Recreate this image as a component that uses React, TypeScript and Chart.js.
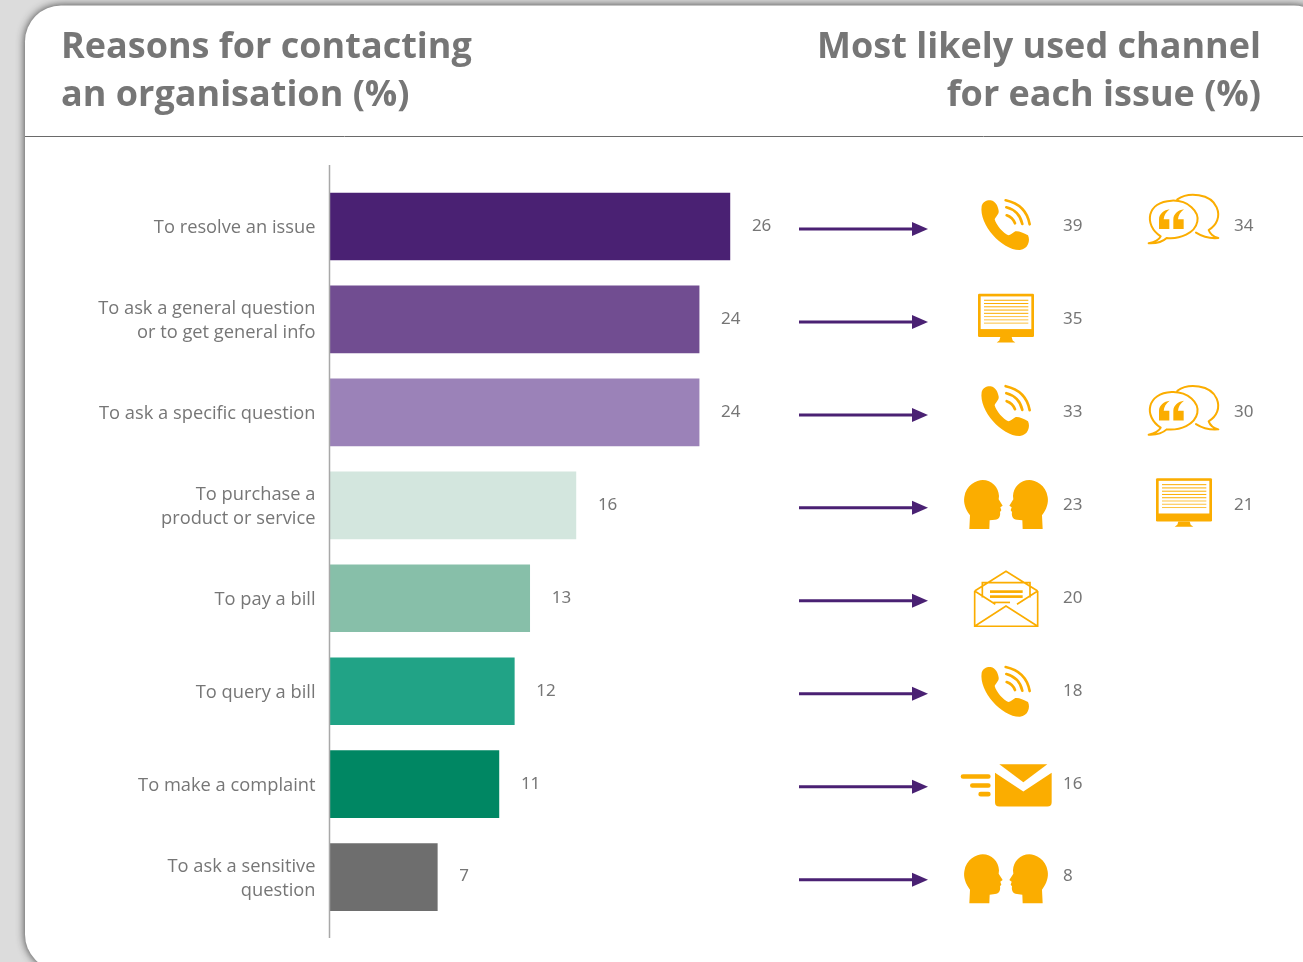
import React, { useEffect, useRef } from "react";
import { Chart, registerables } from "chart.js";

Chart.register(...registerables);

const categories: (string | string[])[] = [
  "To resolve an issue",
  ["To ask a general question", "or to get general info"],
  "To ask a specific question",
  ["To purchase a", "product or service"],
  "To pay a bill",
  "To query a bill",
  "To make a complaint",
  ["To ask a sensitive", "question"],
];
const reasonValues = [26, 24, 24, 16, 13, 12, 11, 7];
const barColors = ["#4a2173", "#714d91", "#9b82b8", "#d3e6de", "#87bfa9", "#21a386", "#008763", "#6e6e6e"];
const firstChannel = ["phone", "monitor", "phone", "heads", "letter", "phone", "email", "heads"];
const firstChannelValues = [39, 35, 33, 23, 20, 18, 16, 8];
const secondChannel = ["chat", null, "chat", "monitor", null, null, null, null];
const secondChannelValues = [34, null, 30, 21, null, null, null, null];
const leftTitle = ["Reasons for contacting", "an organisation (%)"];
const rightTitle = ["Most likely used channel", "for each issue (%)"];

const AMBER = "#fbad00";
const PURPLE = "#4a2173";
const GREY_TEXT = "#767676";

type Ctx = CanvasRenderingContext2D;

// Icons are authored on a 3x grid, x from the icon column and y from the row centre.
function drawPhone(ctx: Ctx) {
  ctx.translate(0, -169.5);
  ctx.fillStyle = AMBER;
  ctx.beginPath();
  ctx.moveTo(125, 108);
  ctx.bezierCurveTo(116, 165, 188, 242, 240, 240);
  ctx.bezierCurveTo(264, 238, 272, 212, 264, 196);
  ctx.bezierCurveTo(250, 188, 235, 182, 226, 184);
  ctx.bezierCurveTo(218, 188, 212, 196, 205, 196);
  ctx.bezierCurveTo(190, 190, 168, 165, 164, 148);
  ctx.bezierCurveTo(166, 140, 178, 132, 176, 122);
  ctx.bezierCurveTo(174, 110, 168, 94, 152, 91);
  ctx.bezierCurveTo(140, 90, 128, 96, 125, 108);
  ctx.fill();
  ctx.strokeStyle = AMBER;
  ctx.lineWidth = 8;
  ctx.lineCap = "round";
  ctx.beginPath();
  ctx.moveTo(197, 91);
  ctx.quadraticCurveTo(258, 104, 269, 163);
  ctx.moveTo(199, 112);
  ctx.quadraticCurveTo(238, 122, 247, 162);
  ctx.moveTo(200, 136);
  ctx.quadraticCurveTo(218, 142, 225, 160);
  ctx.stroke();
}

function drawChat(ctx: Ctx) {
  ctx.translate(0, -169.5);
  ctx.strokeStyle = AMBER;
  ctx.lineWidth = 6;
  ctx.lineCap = "round";
  ctx.lineJoin = "round";
  ctx.beginPath();
  ctx.moveTo(662, 199);
  ctx.bezierCurveTo(610, 165, 620, 95, 695, 92);
  ctx.bezierCurveTo(745, 90, 778, 125, 772, 155);
  ctx.bezierCurveTo(765, 190, 720, 208, 680, 204);
  ctx.bezierCurveTo(665, 218, 645, 221, 626, 220);
  ctx.bezierCurveTo(645, 216, 658, 208, 662, 199);
  ctx.moveTo(712, 88);
  ctx.bezierCurveTo(745, 65, 812, 70, 830, 112);
  ctx.bezierCurveTo(842, 140, 830, 165, 806, 180);
  ctx.bezierCurveTo(810, 192, 820, 200, 835, 204);
  ctx.bezierCurveTo(812, 206, 790, 202, 768, 188);
  ctx.stroke();
  ctx.fillStyle = AMBER;
  for (const dx of [0, 43]) {
    ctx.beginPath();
    ctx.moveTo(657 + dx, 177);
    ctx.lineTo(657 + dx, 148);
    ctx.bezierCurveTo(657 + dx, 132, 672 + dx, 120, 689 + dx, 118);
    ctx.bezierCurveTo(678 + dx, 126, 672 + dx, 136, 671 + dx, 148);
    ctx.lineTo(688 + dx, 148);
    ctx.lineTo(688 + dx, 177);
    ctx.closePath();
    ctx.fill();
  }
}

function drawMonitor(ctx: Ctx) {
  ctx.fillStyle = AMBER;
  ctx.beginPath();
  ctx.roundRect(114, -77, 168, 130, 4);
  ctx.fill();
  ctx.fillStyle = "#ffffff";
  ctx.fillRect(122, -69, 152, 98);
  ctx.fillStyle = AMBER;
  for (let i = 0; i < 8; i++) {
    ctx.globalAlpha = i < 5 ? 1 : 0.75;
    ctx.fillRect(132, -59 + i * 9.8, 133, 3);
  }
  ctx.globalAlpha = 1;
  ctx.beginPath();
  ctx.moveTo(181, 53);
  ctx.lineTo(215, 53);
  ctx.lineTo(218, 63);
  ctx.lineTo(226, 69);
  ctx.lineTo(170, 69);
  ctx.lineTo(178, 63);
  ctx.closePath();
  ctx.fill();
}

function headPath(ctx: Ctx) {
  ctx.beginPath();
  ctx.moveTo(88, 71);
  ctx.lineTo(90, 30);
  ctx.bezierCurveTo(76, 12, 70, -8, 73, -25);
  ctx.bezierCurveTo(78, -62, 110, -76, 128, -76);
  ctx.bezierCurveTo(155, -76, 176, -55, 177, -28);
  ctx.lineTo(176, -18);
  ctx.lineTo(188, 1);
  ctx.lineTo(181, 6);
  ctx.lineTo(184, 15);
  ctx.lineTo(180, 20);
  ctx.bezierCurveTo(182, 32, 178, 42, 165, 43);
  ctx.lineTo(149, 45);
  ctx.lineTo(148, 71);
  ctx.closePath();
  ctx.fill();
}

function drawHeads(ctx: Ctx) {
  ctx.fillStyle = AMBER;
  headPath(ctx);
  ctx.save();
  ctx.translate(396, 0);
  ctx.scale(-1, 1);
  headPath(ctx);
  ctx.restore();
}

function drawLetter(ctx: Ctx) {
  ctx.strokeStyle = AMBER;
  ctx.lineWidth = 5;
  ctx.lineJoin = "miter";
  ctx.lineCap = "butt";
  ctx.beginPath();
  ctx.moveTo(104, -22);
  ctx.lineTo(104, 84);
  ctx.lineTo(293, 84);
  ctx.lineTo(293, -22);
  ctx.moveTo(104, -22);
  ctx.lineTo(198, -81);
  ctx.lineTo(293, -22);
  ctx.moveTo(104, 84);
  ctx.lineTo(198, 23);
  ctx.lineTo(293, 84);
  ctx.moveTo(104, -22);
  ctx.lineTo(166, 18);
  ctx.moveTo(293, -22);
  ctx.lineTo(231, 18);
  ctx.moveTo(127, -2);
  ctx.lineTo(127, -47);
  ctx.lineTo(270, -47);
  ctx.lineTo(270, -2);
  ctx.stroke();
  ctx.fillStyle = AMBER;
  ctx.fillRect(150, -24, 98, 8);
  ctx.fillRect(150, -9, 98, 8);
  ctx.fillRect(160, 10, 50, 5);
}

function drawEmail(ctx: Ctx) {
  ctx.fillStyle = AMBER;
  ctx.beginPath();
  ctx.moveTo(178, -60);
  ctx.lineTo(322, -60);
  ctx.lineTo(250, -6);
  ctx.closePath();
  ctx.fill();
  ctx.beginPath();
  ctx.moveTo(165, -34);
  ctx.lineTo(250, 22);
  ctx.lineTo(335, -34);
  ctx.lineTo(335, 54);
  ctx.quadraticCurveTo(335, 67, 322, 67);
  ctx.lineTo(178, 67);
  ctx.quadraticCurveTo(165, 67, 165, 54);
  ctx.closePath();
  ctx.fill();
  ctx.beginPath();
  ctx.roundRect(62, -30, 90, 14, 7);
  ctx.roundRect(90, -3, 62, 14, 7);
  ctx.roundRect(115, 23, 37, 14, 7);
  ctx.fill();
}

const iconPainters: Record<string, (ctx: Ctx) => void> = {
  phone: drawPhone,
  chat: drawChat,
  monitor: drawMonitor,
  heads: drawHeads,
  letter: drawLetter,
  email: drawEmail,
};

function placeIcon(ctx: Ctx, name: string, rowY: number, dx = 0, dy = 0) {
  ctx.save();
  ctx.translate(940 + dx, rowY + dy);
  ctx.scale(1 / 3, 1 / 3);
  iconPainters[name](ctx);
  ctx.restore();
}

// Draws the card behind the plot, the headings and the divider.
const cardPlugin = {
  id: "card",
  beforeDraw(chart: Chart) {
    const ctx = chart.ctx;
    ctx.save();
    ctx.fillStyle = "#dcdcdc";
    ctx.fillRect(0, 0, 1303, 962);
    ctx.save();
    ctx.shadowColor = "rgba(40,40,40,0.9)";
    ctx.shadowBlur = 9;
    ctx.fillStyle = "#ffffff";
    ctx.beginPath();
    ctx.roundRect(25, 5.5, 1305, 965, 36);
    ctx.fill();
    ctx.restore();

    ctx.fillStyle = GREY_TEXT;
    ctx.font = "700 36px 'Open Sans', sans-serif";
    ctx.textBaseline = "alphabetic";
    ctx.textAlign = "left";
    leftTitle.forEach((line, i) => ctx.fillText(line, 61, 57.5 + i * 48));
    ctx.textAlign = "right";
    rightTitle.forEach((line, i) => ctx.fillText(line, 1261, 57.5 + i * 48));

    ctx.strokeStyle = "#6a6a6a";
    ctx.lineWidth = 1;
    ctx.beginPath();
    ctx.moveTo(25, 136.5);
    ctx.lineTo(1303, 136.5);
    ctx.stroke();
    ctx.restore();
  },
  afterDatasetsDraw(chart: Chart) {
    const ctx = chart.ctx;
    const xScale = chart.scales.x;
    const yScale = chart.scales.y;
    const zeroX = xScale.getPixelForValue(0);
    ctx.save();
    ctx.strokeStyle = "#a8a8a8";
    ctx.lineWidth = 1.5;
    ctx.beginPath();
    ctx.moveTo(zeroX, 165);
    ctx.lineTo(zeroX, 938);
    ctx.stroke();

    ctx.font = "17px 'Noto Sans', sans-serif";
    ctx.textAlign = "left";
    ctx.textBaseline = "middle";
    reasonValues.forEach((value, i) => {
      const rowY = yScale.getPixelForValue(i);
      const textY = rowY - 0.5;
      ctx.fillStyle = GREY_TEXT;
      ctx.fillText(String(value), xScale.getPixelForValue(value) + 22, textY);

      // Arrow from the bar towards its channel.
      const arrowY = rowY + 2.5;
      ctx.strokeStyle = PURPLE;
      ctx.lineWidth = 3;
      ctx.beginPath();
      ctx.moveTo(799, arrowY);
      ctx.lineTo(915, arrowY);
      ctx.stroke();
      ctx.fillStyle = PURPLE;
      ctx.beginPath();
      ctx.moveTo(928, arrowY);
      ctx.lineTo(912, arrowY - 7);
      ctx.lineTo(912, arrowY + 7);
      ctx.closePath();
      ctx.fill();

      placeIcon(ctx, firstChannel[i], rowY, 0, i === 7 ? 2.5 : i === 5 ? 2 : 0);
      ctx.fillStyle = GREY_TEXT;
      ctx.fillText(String(firstChannelValues[i]), 1063, textY);

      const second = secondChannel[i];
      const secondValue = secondChannelValues[i];
      if (second && secondValue !== null) {
        if (second === "monitor") {
          placeIcon(ctx, second, rowY, 178, -1.5);
        } else {
          placeIcon(ctx, second, rowY, 0, i === 2 ? 5.5 : 0);
        }
        ctx.fillStyle = GREY_TEXT;
        ctx.fillText(String(secondValue), 1234, textY);
      }
    });
    ctx.restore();
  },
};

export default function App() {
  const canvasRef = useRef<HTMLCanvasElement>(null);

  useEffect(() => {
    document.body.style.margin = "0";
    const chart = new Chart(canvasRef.current!, {
      type: "bar",
      data: {
        labels: categories as any,
        datasets: [
          {
            data: reasonValues,
            backgroundColor: barColors,
            borderWidth: 0,
            barThickness: 67,
          },
        ],
      },
      options: {
        indexAxis: "y",
        animation: false,
        responsive: false,
        layout: { padding: { top: 180, bottom: 38.4, right: 49.5, left: 0 } },
        plugins: { legend: { display: false }, tooltip: { enabled: false } },
        scales: {
          x: { display: false, min: 0, max: 60, grid: { display: false } },
          y: {
            afterFit(scale: any) {
              scale.width = 329.5;
            },
            grid: { display: false, drawTicks: false },
            border: { display: false },
            ticks: {
              color: GREY_TEXT,
              padding: 14,
              labelOffset: 1.5,
              font: { family: "'Open Sans', sans-serif", weight: "400", size: 18.3, lineHeight: 1.3 },
            },
          },
        },
      },
      plugins: [cardPlugin as any],
    });
    return () => chart.destroy();
  }, []);

  return <canvas ref={canvasRef} width={1303} height={962} style={{ display: "block" }} />;
}
